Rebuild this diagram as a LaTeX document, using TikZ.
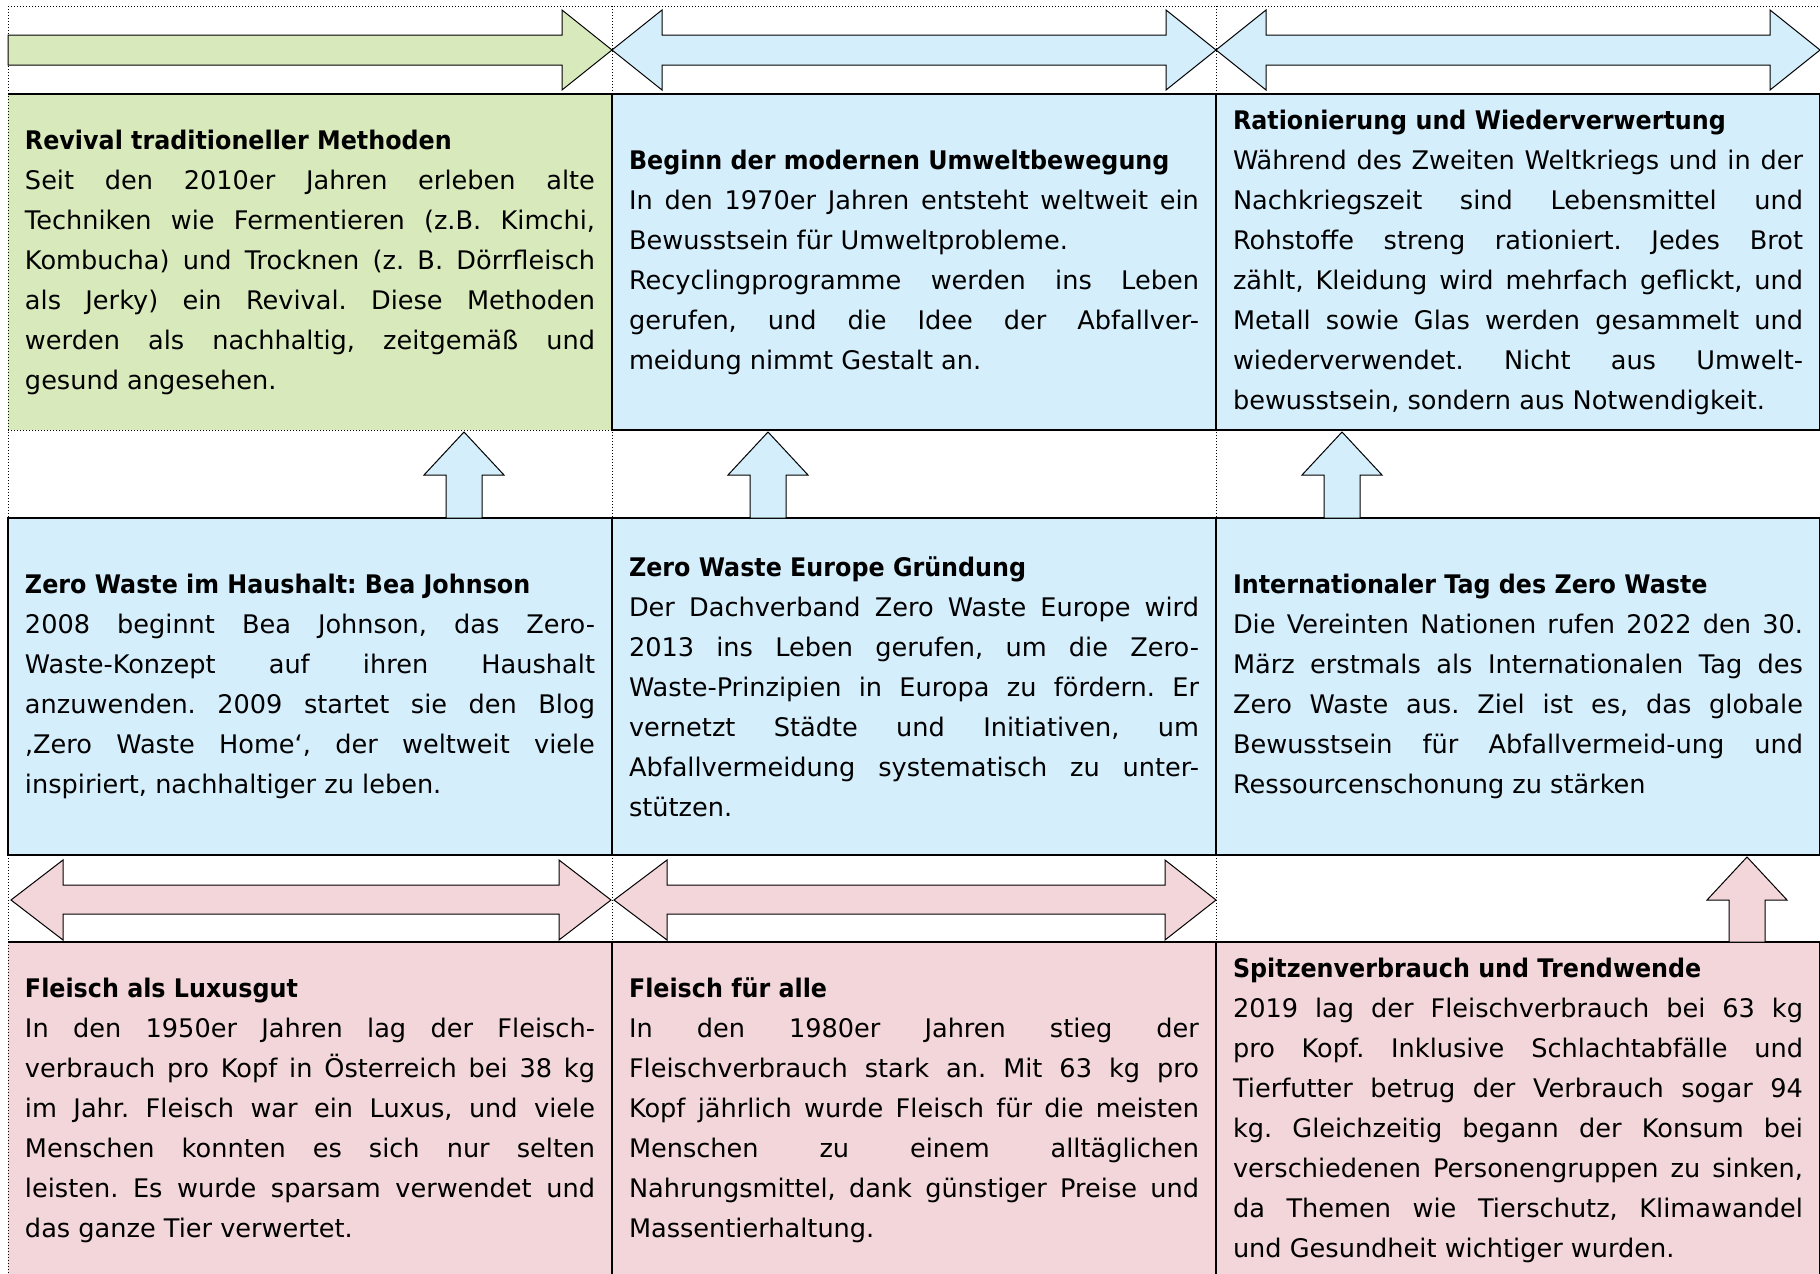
\documentclass[tikz,border=0pt]{standalone}
\usepackage[dvipsnames]{xcolor}
\usepackage{fontspec}
\setmainfont{DejaVu Sans}[BoldFeatures={FakeStretch=0.93}]

\definecolor{greenfill}{RGB}{216,233,188}
\definecolor{bluefill}{RGB}{213,238,252}
\definecolor{pinkfill}{RGB}{242,214,218}

\tolerance=10000
\hyphenpenalty=10000
\frenchspacing

\begin{document}
\begin{tikzpicture}[x=0.5pt,y=-0.5pt,
  event/.style={anchor=north west,draw,line width=1pt,outer sep=0pt,minimum width=302pt,minimum height=168pt,text width=285pt,inner xsep=8.5pt,inner ysep=2pt,align=justify,font=\fontsize{12.8}{20}\selectfont},
  green event/.style={event,fill=greenfill,draw=none},
  blue event/.style={event,fill=bluefill},
  pink event/.style={event,fill=pinkfill},
  solid border/.style={line width=1pt},
  table line/.style={densely dotted,line width=0.5pt},
  block/.style={draw,line width=0.5pt,line join=miter}]

    \useasboundingbox (0,0) rectangle (1820,1274);

    % first row
    \node[green event] (revival) at (8,94) {\textbf{Revival traditioneller Methoden}\\
      Seit den 2010er Jahren erleben alte\linebreak
      Techniken wie Fermentieren (z.B. Kimchi,\linebreak
      Kombucha) und Trocknen (z. B. Dörrfleisch\linebreak
      als Jerky) ein Revival. Diese Methoden\linebreak
      werden als nachhaltig, zeitgemäß und\linebreak
      gesund angesehen.};
    \node[blue event] (umwelt) at (612,94) {\textbf{Beginn der modernen Umweltbewegung}\\
      In den 1970er Jahren entsteht weltweit ein\linebreak
      Bewusstsein für Umweltprobleme.\\
      Recyclingprogramme werden ins Leben\linebreak
      gerufen, und die Idee der Abfallver-\linebreak
      meidung nimmt Gestalt an.};
    \node[blue event] (ration) at (1216,94) {\textbf{Rationierung und Wiederverwertung}\\
      Während des Zweiten Weltkriegs und in der\linebreak
      Nachkriegszeit sind Lebensmittel und\linebreak
      Rohstoffe streng rationiert. Jedes Brot\linebreak
      zählt, Kleidung wird mehrfach geflickt, und\linebreak
      Metall sowie Glas werden gesammelt und\linebreak
      wiederverwendet. Nicht aus Umwelt-\linebreak
      bewusstsein, sondern aus Notwendigkeit.};

    % second row
    \node[blue event,minimum height=168.5pt] (johnson) at (8,518) {\textbf{Zero Waste im Haushalt: Bea Johnson}\\
      2008 beginnt Bea Johnson, das Zero-\linebreak
      Waste-Konzept auf ihren Haushalt\linebreak
      anzuwenden. 2009 startet sie den Blog\linebreak
      ‚Zero Waste Home‘, der weltweit viele\linebreak
      inspiriert, nachhaltiger zu leben.};
    \node[blue event,minimum height=168.5pt] (europe) at (612,518) {\textbf{Zero Waste Europe Gründung}\\
      Der Dachverband Zero Waste Europe wird\linebreak
      2013 ins Leben gerufen, um die Zero-\linebreak
      Waste-Prinzipien in Europa zu fördern. Er\linebreak
      vernetzt Städte und Initiativen, um\linebreak
      Abfallvermeidung systematisch zu unter-\linebreak
      stützen.};
    \node[blue event,minimum height=168.5pt] (wasteday) at (1216,518) {\textbf{Internationaler Tag des Zero Waste}\\
      Die Vereinten Nationen rufen 2022 den 30.\linebreak
      März erstmals als Internationalen Tag des\linebreak
      Zero Waste aus. Ziel ist es, das globale\linebreak
      Bewusstsein für Abfallvermeid-ung und\linebreak
      Ressourcenschonung zu stärken};

    % third row
    \node[pink event,draw=none] (luxus) at (8,942) {\textbf{Fleisch als Luxusgut}\\
      In den 1950er Jahren lag der Fleisch-\linebreak
      verbrauch pro Kopf in Österreich bei 38 kg\linebreak
      im Jahr. Fleisch war ein Luxus, und viele\linebreak
      Menschen konnten es sich nur selten\linebreak
      leisten. Es wurde sparsam verwendet und\linebreak
      das ganze Tier verwertet.};
    \node[pink event] (alle) at (612,942) {\textbf{Fleisch für alle}\\
      In den 1980er Jahren stieg der\linebreak
      Fleischverbrauch stark an. Mit 63 kg pro\linebreak
      Kopf jährlich wurde Fleisch für die meisten\linebreak
      Menschen zu einem alltäglichen\linebreak
      Nahrungsmittel, dank günstiger Preise und\linebreak
      Massentierhaltung.};
    \node[pink event] (spitze) at (1216,942) {\textbf{Spitzenverbrauch und Trendwende}\\
      2019 lag der Fleischverbrauch bei 63 kg\linebreak
      pro Kopf. Inklusive Schlachtabfälle und\linebreak
      Tierfutter betrug der Verbrauch sogar 94\linebreak
      kg. Gleichzeitig begann der Konsum bei\linebreak
      verschiedenen Personengruppen zu sinken,\linebreak
      da Themen wie Tierschutz, Klimawandel\linebreak
      und Gesundheit wichtiger wurden.};

    % dotted table lines
    \draw[table line] (8,6) -- (8,1274);
    \draw[table line] (612,6) -- (612,1274);
    \draw[table line] (1216,6) -- (1216,1274);
    \draw[table line] (8,6) -- (1820,6);
    \draw[table line] (8,430) -- (612,430);

    \draw[solid border] (revival.north west) -- (revival.north east);
    \draw[solid border] (luxus.north west) -- (luxus.north east);

    % block arrows
    \draw[block,fill=greenfill] (8,35) -- (562,35) -- (562,10) -- (612,50) -- (562,90) -- (562,65) -- (8,65) -- cycle;
    \draw[block,fill=bluefill] (612,50) -- (662,10) -- (662,35) -- (1166,35) -- (1166,10) -- (1216,50) -- (1166,90) -- (1166,65) -- (662,65) -- (662,90) -- cycle;
    \draw[block,fill=bluefill] (1216,50) -- (1266,10) -- (1266,35) -- (1770,35) -- (1770,10) -- (1820,50) -- (1770,90) -- (1770,65) -- (1266,65) -- (1266,90) -- cycle;

    \draw[block,fill=bluefill] (446,518) -- (446,475) -- (424,475) -- (464,432) -- (504,475) -- (482,475) -- (482,518) -- cycle;
    \draw[block,fill=bluefill] (750,518) -- (750,475) -- (728,475) -- (768,432) -- (808,475) -- (786,475) -- (786,518) -- cycle;
    \draw[block,fill=bluefill] (1324,518) -- (1324,475) -- (1302,475) -- (1342,432) -- (1382,475) -- (1360,475) -- (1360,518) -- cycle;

    \draw[block,fill=pinkfill] (11,900) -- (63,860) -- (63,885) -- (559,885) -- (559,860) -- (611,900) -- (559,940) -- (559,914) -- (63,914) -- (63,940) -- cycle;
    \draw[block,fill=pinkfill] (614,900) -- (667,860) -- (667,885) -- (1165,885) -- (1165,860) -- (1216,900) -- (1165,940) -- (1165,914) -- (667,914) -- (667,940) -- cycle;
    \draw[block,fill=pinkfill] (1729,942) -- (1729,900) -- (1707,900) -- (1747,857) -- (1787,900) -- (1765,900) -- (1765,942) -- cycle;

\end{tikzpicture}
\end{document}
